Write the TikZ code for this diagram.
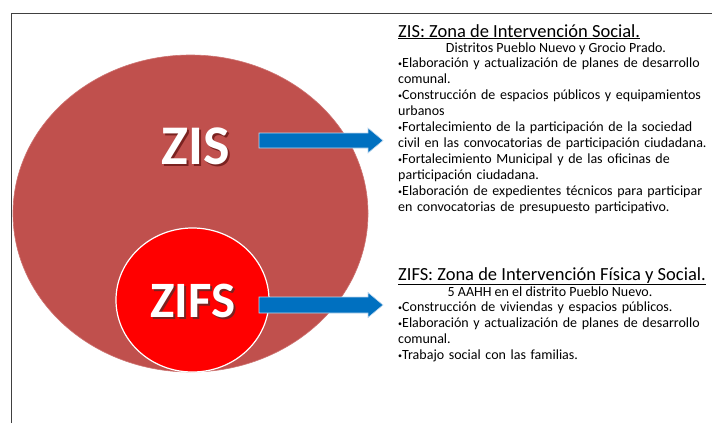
\documentclass[tikz,border=0pt]{standalone}
\usepackage{fontspec}
\setmainfont{Carlito}
\usetikzlibrary{shapes.geometric}
\definecolor{bigred}{HTML}{C0504D}
\definecolor{zifsred}{HTML}{FF0000}
\definecolor{arrowblue}{HTML}{0070C0}
\definecolor{arrowedge}{HTML}{BDD7EE}
\definecolor{shadowred}{HTML}{7A2220}
\definecolor{framegray}{HTML}{404040}
\newcommand\bul{{\fontsize{8}{8}\selectfont\raisebox{1pt}{•}}}
\newcommand\shadowed[1]{\rlap{\hspace{2pt}\raisebox{-2pt}{\textcolor{shadowred}{#1}}}#1}
\tikzset{
  bigzone/.style={ellipse, fill=bigred, draw=bigred!80!white, line width=0.6pt, inner sep=0pt},
  smallzone/.style={ellipse, fill=zifsred, draw=white, line width=1.2pt, inner sep=0pt},
  biglabel/.style={text=white, inner sep=0pt},
  titletext/.style={font=\fontsize{18.5}{20}\selectfont, inner sep=0pt, anchor=base west},
  centertext/.style={font=\fontsize{14}{16}\selectfont, inner sep=0pt, anchor=base},
  bodytext/.style={font=\fontsize{14}{16}\selectfont, inner sep=0pt, anchor=base west, text width=320pt, align=left},
  blockarrow/.style={fill=arrowblue, draw=arrowedge, line width=0.6pt}
}
\begin{document}
\begin{tikzpicture}[x=1pt,y=-1pt]
\useasboundingbox (0,0) rectangle (712,423);
\fill[white] (0,0) rectangle (712,423);
% frame
\draw[framegray, line width=1pt] (11,423) -- (11,13) -- (712,13);
% zones
\node[bigzone, minimum width=355pt, minimum height=317pt] (zis) at (190.5,213.5) {};
\node[smallzone, minimum width=153pt, minimum height=144pt] (zifs) at (192.5,300) {};
% big labels
\node[biglabel, font=\bfseries\fontsize{56}{56}\selectfont] (zislabel) at (196,147) {\shadowed{ZIS}};
\node[biglabel, font=\bfseries\fontsize{51}{51}\selectfont] (zifslabel) at (193,302) {\shadowed{ZIFS}};
% arrow anchor coordinates
\coordinate (zisA) at (259,140.5);
\coordinate (zisB) at (383,140.5);
\coordinate (zifsA) at (259,305);
\coordinate (zifsB) at (383,305);
\draw[blockarrow] (zisA) ++(0,-7.5) -- ++(109,0) -- ++(0,-5) -- (zisB) -- ++(-15,12.5) -- ++(0,-5) -- ++(-109,0) -- cycle;
\draw[blockarrow] (zifsA) ++(0,-8) -- ++(109,0) -- ++(0,-4.5) -- (zifsB) -- ++(-15,12.5) -- ++(0,-4.5) -- ++(-109,0) -- cycle;
% ZIS text
\node[titletext] (zistitle) at (398,37) {\underline{ZIS: Zona de Intervención Social.}};
\node[centertext] (zisdist) at (556,52) {Distritos Pueblo Nuevo y Grocio Prado.};
\node[bodytext] (zisbody) at (398,67) {\bul Elaboración y actualización de planes de desarrollo\\
comunal.\\
\bul Construcción de espacios públicos y equipamientos\\
urbanos\\
\bul Fortalecimiento de la participación de la sociedad\\
civil en las convocatorias de participación ciudadana.\\
\bul Fortalecimiento Municipal y de las oficinas de\\
participación ciudadana.\\
\bul Elaboración de expedientes técnicos para participar\\
en convocatorias de presupuesto participativo.};
% ZIFS text
\node[titletext] (zifstitle) at (398,280) {\underline{ZIFS: Zona de Intervención Física y Social.}};
\node[centertext] (zifsdist) at (550,296) {5 AAHH en el distrito Pueblo Nuevo.};
\node[bodytext] (zifsbody) at (398,311) {\bul Construcción de viviendas y espacios públicos.\\
\bul Elaboración y actualización de planes de desarrollo\\
comunal.\\
\bul Trabajo social con las familias.};
\end{tikzpicture}
\end{document}
